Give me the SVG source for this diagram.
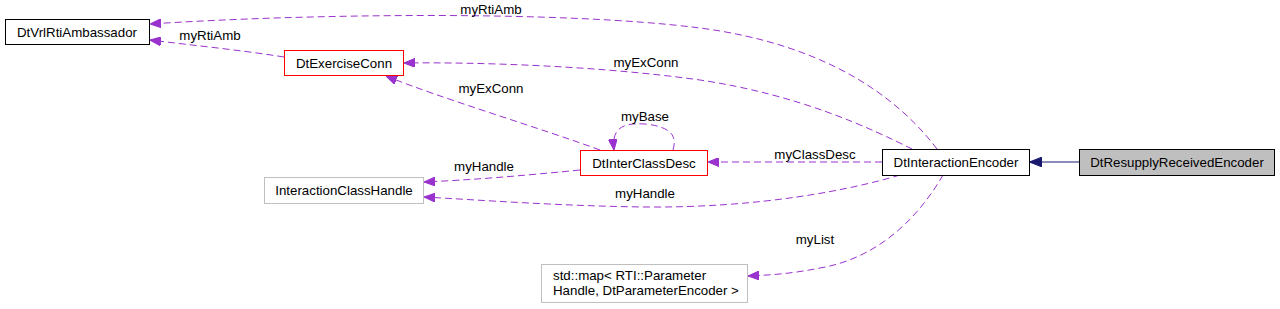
<svg xmlns="http://www.w3.org/2000/svg" width="1280" height="309" viewBox="0 0 1280 309">
<style>
text{font-family:"Liberation Sans",Arial,Helvetica,sans-serif;font-size:13.3px;fill:#000}
.box{fill:#fff;stroke:#000;stroke-width:1}
.red{fill:#fff;stroke:#ff0000;stroke-width:1}
.grey{fill:#fff;stroke:#bfbfbf;stroke-width:1}
.self{fill:#bfbfbf;stroke:#000;stroke-width:1}
.e{fill:none;stroke:#9a32cd;stroke-width:1;stroke-dasharray:7,4;marker-end:url(#ap)}
.n{fill:none;stroke:#191970;stroke-width:1;marker-end:url(#an)}
.c{text-anchor:middle}
</style>
<defs>
<marker id="ap" viewBox="0 0 10 8" refX="10" refY="4" markerWidth="11" markerHeight="9" markerUnits="userSpaceOnUse" orient="auto">
<path d="M0,0 L10,4 L0,8 Z" fill="#9a32cd" stroke="#9a32cd"/>
</marker>
<marker id="an" viewBox="0 0 10 8" refX="10" refY="4" markerWidth="12" markerHeight="10" markerUnits="userSpaceOnUse" orient="auto">
<path d="M0,0 L10,4 L0,8 Z" fill="#191970" stroke="#191970"/>
</marker>
</defs>
<g id="edges">
<path class="e" d="M937,149 C900,100 830,45 700,28 C560,10 300,14 150,24"/>
<path class="e" d="M284,57 C240,50 190,45 150,40"/>
<path class="e" d="M912,149 C870,128 800,95 700,80 C600,66 480,62 404,63"/>
<path class="e" d="M600,150 C540,128 440,98 386,76"/>
<path class="e" d="M673,150 C676,140 676,127 645,124 C618,122 612,132 614,150"/>
<path class="e" d="M882,162 L708,162"/>
<path class="e" d="M580,170 C520,176 470,180 424,182"/>
<path class="e" d="M900,175 C850,190 760,208 645,207 C560,206 480,200 424,197"/>
<path class="e" d="M943,175 C920,215 880,258 820,268 C790,274 770,275 748,276"/>
<path class="n" d="M1079,162 L1030,162"/>
</g>
<g id="labels">
<text class="c" x="491" y="14">myRtiAmb</text>
<text class="c" x="210" y="40">myRtiAmb</text>
<text class="c" x="646" y="67">myExConn</text>
<text class="c" x="491" y="93">myExConn</text>
<text class="c" x="645" y="121">myBase</text>
<text class="c" x="815" y="159">myClassDesc</text>
<text class="c" x="484" y="171">myHandle</text>
<text class="c" x="645" y="198">myHandle</text>
<text class="c" x="815" y="244">myList</text>
</g>
<g id="DtVrlRtiAmbassador">
<rect class="box" x="5.5" y="19.5" width="144" height="25"/>
<text class="c" x="77" y="36.5">DtVrlRtiAmbassador</text>
</g>
<g id="DtExerciseConn">
<rect class="red" x="284.5" y="50.5" width="119" height="25"/>
<text class="c" x="344" y="67.5">DtExerciseConn</text>
</g>
<g id="DtInterClassDesc">
<rect class="red" x="580.5" y="150.5" width="127" height="25"/>
<text class="c" x="644" y="167.5">DtInterClassDesc</text>
</g>
<g id="InteractionClassHandle">
<rect class="grey" x="264.5" y="177.5" width="159" height="26"/>
<text class="c" x="344" y="195">InteractionClassHandle</text>
</g>
<g id="DtInteractionEncoder">
<rect class="box" x="882.5" y="149.5" width="147" height="26"/>
<text class="c" x="956" y="167">DtInteractionEncoder</text>
</g>
<g id="DtResupplyReceivedEncoder">
<rect class="self" x="1079.5" y="149.5" width="195" height="26"/>
<text class="c" x="1177" y="167">DtResupplyReceivedEncoder</text>
</g>
<g id="stdmap">
<rect class="grey" x="541.5" y="264.5" width="206" height="38"/>
<text x="553" y="279.5">std::map&lt; RTI::Parameter</text>
<text x="553" y="294.5">Handle, DtParameterEncoder &gt;</text>
</g>
</svg>
